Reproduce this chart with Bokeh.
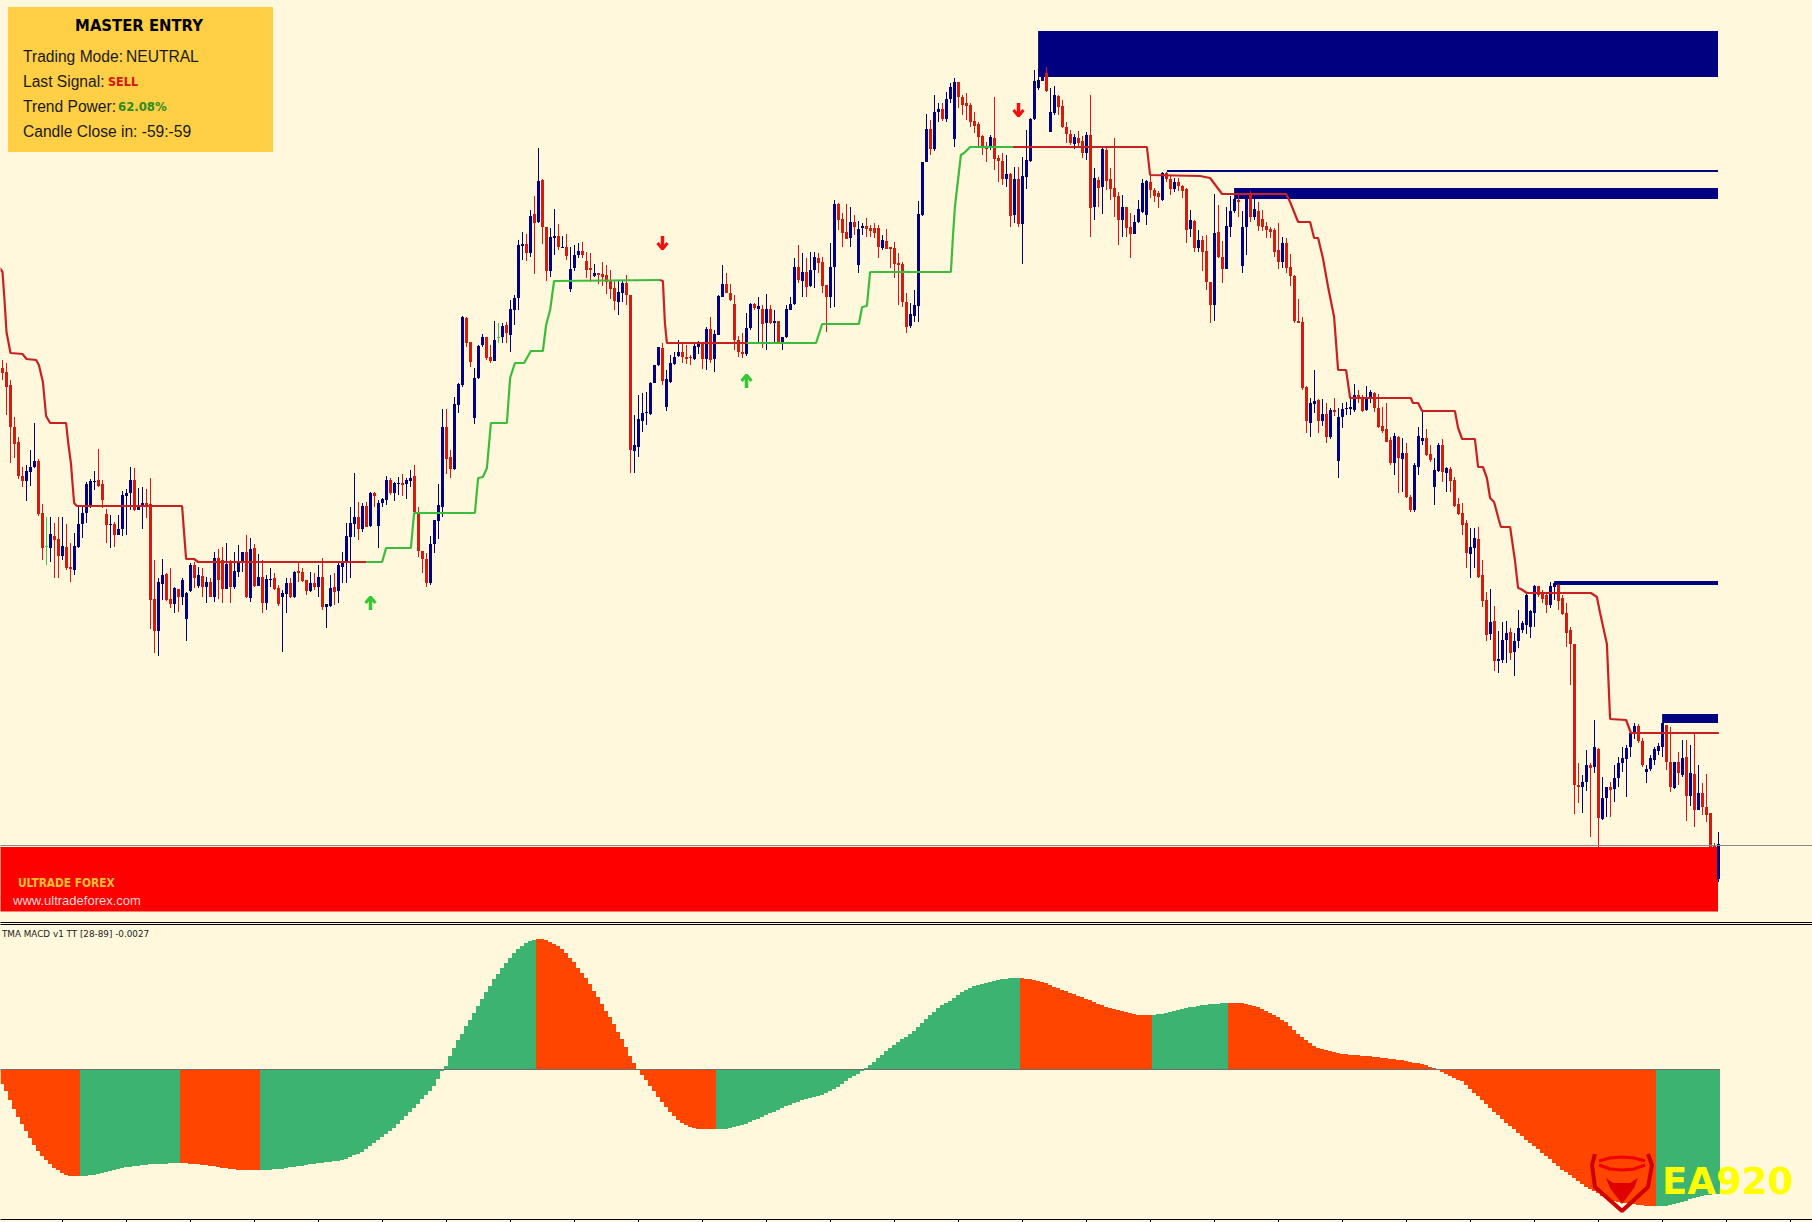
from bokeh.plotting import figure
from bokeh.models import Range1d
from bokeh.core.properties import value
from bokeh.embed import file_html
from bokeh.resources import INLINE

# ---------- price bars: (kind, high, body top, body bottom, low), price scale is the chart's row scale
# kind: n = rising (navy), r = falling (red), g = unchanged (green)
candles_000 = [
("r",360,368,373,380),("r",363,372,387,415),("r",380,385,427,463),("r",417,427,444,458),("r",437,442,476,479),
("r",467,476,481,487),("n",465,471,481,501),("n",450,467,472,486),("n",423,461,467,468),("r",459,461,514,516),
("r",504,513,548,560),("g",517,546,547,565),("n",517,534,548,562),("r",523,536,540,578),("r",517,539,556,578),
("n",517,546,556,560),("r",524,547,568,570),("r",543,567,569,582),("n",533,546,570,575),("n",506,524,547,548),
("n",505,513,524,538),("n",482,484,513,523),("n",479,481,506,508),("n",471,481,482,490),("r",449,480,486,487),
("r",480,484,500,508),("r",509,514,525,543),("n",515,524,525,548),("r",522,524,535,547),("n",515,529,535,535),
("n",491,495,529,536),("n",489,493,496,535),("n",467,480,493,510),("r",468,480,510,511),("n",488,506,510,510),
("n",487,503,506,529),("r",489,503,505,518),("r",478,504,600,629),("r",560,599,631,653),("n",578,582,631,656),
("n",559,575,584,600),("r",573,574,600,601),("r",568,599,604,608),("n",587,588,604,613),("r",589,589,597,612),
("n",578,580,597,605),("n",592,593,619,641),("n",563,565,591,592),("r",562,565,578,588),("n",567,575,586,588),
("r",568,576,587,597),("n",577,582,587,603),("r",578,582,597,597),("n",552,558,597,602),("r",549,558,580,599),
("r",547,560,589,603),("n",543,564,589,589),("r",560,562,587,603),("n",552,571,587,589),("n",545,563,572,577),
("n",552,552,563,572),("r",535,552,597,598),("n",538,549,598,602),("r",544,548,586,587),("n",554,577,586,586),
("r",560,577,603,613),("n",575,579,603,610),("n",568,579,580,587),("r",573,578,589,590),("r",585,588,604,606),
("n",590,593,597,652),("n",578,583,594,613),("r",578,583,597,598),("n",571,572,597,598),("r",562,571,573,582),
("r",568,572,581,582),("r",580,580,591,595),("n",572,583,591,592),("r",573,583,587,590),("n",565,577,587,597),
("r",558,577,607,610),("n",604,604,607,628),("n",575,588,606,607),("r",573,587,592,605),("n",563,565,591,603),
("n",552,563,567,583),("n",523,536,563,583),("n",507,523,537,578),("n",473,517,524,537),("r",502,517,529,540),
("n",503,506,529,532),("r",502,506,527,527),("n",492,493,526,527),("r",492,493,496,507),("n",500,503,526,548),
("n",498,499,503,507),("n",476,480,500,505),("r",478,480,493,495),("n",482,483,493,501),("n",477,483,484,495),
]
candles_100 = [
("r",474,483,485,496),("n",478,480,484,499),("n",470,478,481,487),("r",465,476,512,513),("r",507,512,551,557),
("r",551,551,559,573),("r",553,559,583,587),("n",536,544,583,585),("n",520,520,544,553),("n",484,505,521,539),
("n",409,427,507,517),("r",409,427,459,474),("r",450,457,469,478),("n",397,404,469,470),("n",383,384,405,413),
("n",316,317,385,387),("r",317,318,343,347),("r",342,342,362,367),("n",368,378,418,424),("n",345,346,378,379),
("n",334,337,345,347),("r",337,337,358,360),("r",345,357,361,363),("n",321,340,361,361),("g",323,337,338,343),
("n",323,326,337,343),("r",322,325,333,343),("n",300,309,335,352),("n",295,298,310,325),("n",240,245,298,310),
("n",232,244,246,260),("r",234,244,253,261),("n",210,216,253,257),("r",196,214,223,274),("n",148,181,222,223),
("r",179,180,227,244),("r",227,227,271,281),("n",228,237,271,277),("n",209,236,238,255),("r",224,236,247,250),
("n",236,247,248,248),("r",234,247,256,260),("n",247,269,289,292),("n",245,255,268,271),("n",243,251,255,258),
("r",242,251,255,258),("r",252,261,270,278),("r",253,268,270,282),("n",264,273,276,277),("r",273,273,275,284),
("r",262,274,277,286),("r",265,275,282,294),("r",270,281,289,299),("r",280,288,301,310),("n",281,292,302,315),
("n",280,283,293,302),("r",275,283,295,305),("r",295,295,450,473),("n",415,445,451,473),("n",395,419,447,457),
("n",393,413,421,432),("n",392,412,413,425),("n",382,383,414,415),("n",365,365,383,383),("n",347,347,365,366),
("r",343,348,381,385),("n",370,379,407,411),("n",355,363,382,383),("n",352,357,364,365),("n",340,352,356,357),
("r",343,352,357,363),("r",345,357,359,364),("r",355,357,358,365),("n",343,346,359,360),("n",341,344,347,354),
("r",343,343,359,369),("n",327,329,359,370),("r",317,329,360,363),("n",330,334,359,372),("n",295,296,335,335),
("n",265,284,297,297),("r",273,284,293,293),("r",284,293,300,301),("r",295,304,340,350),("r",336,340,352,357),
("r",333,352,354,358),("n",313,328,354,356),("n",303,304,328,330),("r",303,304,308,310),("n",297,306,309,343),
("r",305,309,324,348),("n",294,309,323,350),("r",305,309,323,324),("n",310,321,323,343),("r",321,321,343,344),
("n",337,337,344,350),("n",305,309,337,338),("n",297,304,310,310),("n",258,267,304,305),("r",245,267,280,283),
]
candles_200 = [
("n",253,272,281,297),("r",258,272,287,297),("n",252,270,286,287),("n",252,257,270,288),("r",253,258,263,273),
("r",257,262,286,293),("r",285,285,297,332),("n",243,267,297,308),("n",200,204,267,307),("r",203,204,220,230),
("r",213,219,233,247),("r",204,232,239,238),("n",207,222,238,247),("r",215,222,227,235),("n",221,229,265,273),
("n",223,226,228,235),("r",218,226,229,237),("r",225,228,231,237),("r",223,228,233,238),("r",225,228,247,258),
("n",235,240,248,250),("r",229,241,249,249),("r",247,247,249,268),("r",242,248,264,278),("r",253,263,265,305),
("r",262,264,302,307),("r",293,302,327,333),("n",303,314,326,328),("n",290,305,316,322),("n",201,214,306,322),
("n",162,162,215,216),("n",114,129,162,162),("r",120,129,149,155),("n",95,112,149,151),("n",103,109,112,122),
("r",103,109,119,121),("n",92,99,119,122),("n",83,87,99,103),("n",78,82,139,147),("r",82,82,97,108),
("r",95,97,105,115),("r",93,103,106,120),("r",103,105,122,127),("r",112,121,126,133),("r",122,124,137,147),
("r",135,136,147,155),("r",142,146,149,162),("n",135,137,148,150),("r",97,138,159,170),("r",155,158,161,182),
("r",153,161,179,185),("n",155,174,179,187),("r",173,174,216,227),("n",167,179,215,223),("r",167,179,224,227),
("n",157,176,224,264),("n",130,160,177,189),("n",118,119,161,162),("n",70,81,119,120),("n",69,80,88,90),
("n",70,77,81,81),("r",67,73,91,92),("n",88,112,132,132),("n",86,95,113,115),("r",95,96,107,115),
("r",100,106,127,128),("r",122,127,134,143),("r",130,134,143,145),("n",134,137,144,149),("r",131,138,143,147),
("r",136,141,153,158),("n",132,135,153,160),("r",95,135,208,237),("n",168,178,207,220),("r",177,180,188,207),
("n",148,149,187,214),("r",146,150,181,190),("r",168,179,189,200),("r",138,188,197,217),("r",192,196,220,245),
("n",195,207,220,237),("r",207,207,228,237),("r",213,227,234,258),("n",215,222,234,233),("n",200,209,222,223),
("n",179,183,212,213),("n",180,181,215,225),("r",175,182,190,198),("r",188,190,196,202),("r",191,193,197,208),
("n",172,173,200,201),("r",172,173,179,182),("r",175,179,189,195),("n",178,182,189,192),("r",178,182,186,191),
("r",185,186,191,198),("r",188,189,230,243),("n",210,220,229,237),("r",220,221,248,252),("n",230,240,248,252),
]
candles_300 = [
("r",236,240,252,271),("r",235,251,282,290),("r",282,282,305,323),("n",194,233,305,321),("r",205,232,257,258),
("r",241,257,269,283),("n",207,226,269,269),("n",196,211,227,237),("n",198,199,211,213),("r",193,200,202,217),
("n",211,227,266,273),("n",192,195,227,255),("r",191,195,217,222),("n",192,209,217,220),("r",202,211,226,231),
("r",210,219,227,231),("r",222,226,230,238),("r",227,229,232,238),("r",228,230,252,257),("r",223,250,262,269),
("n",237,243,262,268),("r",238,243,268,273),("r",254,267,276,286),("r",275,276,321,323),("r",299,321,323,323),
("r",317,322,388,390),("r",386,387,421,433),("n",398,403,423,437),("n",370,401,404,413),("r",399,400,421,433),
("n",399,414,421,426),("r",403,414,437,443),("n",408,410,437,439),("r",398,410,412,416),("n",408,417,461,478),
("n",403,409,417,428),("n",402,408,409,415),("n",398,407,409,415),("n",384,395,410,412),("r",390,395,398,403),
("r",395,397,411,412),("n",386,397,410,411),("n",390,392,398,403),("r",392,393,408,412),("r",394,408,427,428),
("r",407,426,431,433),("r",403,429,442,442),("r",437,440,463,465),("n",433,436,463,475),("r",436,437,458,493),
("n",438,453,459,492),("r",443,453,497,498),("r",495,497,510,512),("n",463,465,510,512),("n",427,436,467,475),
("n",411,438,441,445),("r",429,438,455,456),("r",445,454,460,462),("n",458,470,487,505),("n",443,445,471,472),
("r",439,445,472,482),("n",467,468,473,492),("r",467,469,481,492),("r",477,480,506,507),("r",498,504,514,515),
("r",503,513,525,535),("r",520,523,553,568),("n",528,547,554,578),("n",528,538,548,568),("r",527,539,577,578),
("r",560,575,601,607),("r",592,600,635,641),("n",589,622,634,640),("r",606,621,661,671),("n",631,659,661,673),
("n",622,640,660,663),("n",621,633,640,663),("r",628,632,653,660),("n",633,641,652,676),("n",610,628,641,648),
("n",621,623,630,633),("n",593,595,625,634),("n",610,611,627,638),("n",585,586,613,627),("r",586,586,595,597),
("r",590,593,599,603),("r",592,595,605,613),("n",582,586,605,608),("n",583,583,587,600),("r",584,585,601,610),
("r",595,598,614,615),("r",603,613,633,647),("r",627,630,644,685),("r",644,644,785,814),("r",763,785,787,803),
("n",775,782,787,813),("n",750,765,782,791),("r",763,765,768,837),("n",720,747,767,773),("r",748,749,818,847),
]
candles_400 = [
("n",777,798,819,820),("n",787,787,798,817),("r",782,787,790,817),("n",765,778,789,802),("n",757,763,778,787),
("n",747,758,763,772),("n",745,748,759,797),("n",733,733,747,757),("n",723,726,734,739),("r",724,726,741,743),
("r",738,741,765,767),("n",765,769,772,783),("n",755,758,769,771),("n",747,749,760,765),("n",743,746,751,755),
("n",723,723,747,757),("r",725,725,762,770),("r",727,762,787,792),("n",762,762,788,789),("r",752,762,773,785),
("n",740,758,775,777),("r",740,757,796,821),("n",745,773,796,806),("r",733,774,810,827),("n",765,793,810,810),
("r",783,793,807,815),("r",774,807,815,822),("r",813,813,847,847),("r",843,845,847,847),("n",832,844,879,882),
]

# ---------- MACD histogram, one value per bar
macd_000 = [-15,-22,-31,-40,-48,-55,-62,-69,-76,-82,-87,-91,-95,-99,-101,-104,-106,-107,-107,-107,
-107,-107,-106,-106,-105,-104,-103,-102,-101,-100,-99,-98,-98,-97,-97,-96,-96,-95,-95,-95,
-95,-95,-94,-94,-94,-94,-94,-95,-95,-95,-96,-96,-97,-97,-98,-99,-99,-100,-100,-101,
-101,-101,-101,-101,-101,-101,-101,-101,-100,-100,-100,-99,-98,-98,-97,-97,-96,-95,-95,-94,
-94,-93,-93,-92,-92,-91,-90,-88,-86,-85,-83,-80,-77,-74,-71,-68,-65,-62,-59,-55]
macd_100 = [-51,-47,-43,-39,-35,-30,-26,-22,-17,-10,-2,3,13,21,29,35,43,49,56,63,
70,77,83,90,95,101,106,111,116,120,123,126,128,129,130,130,129,127,125,123,
120,116,111,107,101,96,91,85,78,72,65,58,52,45,37,30,22,13,6,-1,
-6,-11,-17,-22,-28,-33,-38,-43,-47,-51,-54,-56,-58,-59,-60,-60,-60,-60,-60,-60,
-60,-60,-59,-58,-57,-56,-55,-53,-51,-50,-48,-46,-44,-43,-41,-39,-37,-36,-34,-33]
macd_200 = [-31,-30,-29,-28,-27,-26,-24,-22,-20,-18,-15,-12,-9,-7,-5,-2,1,4,7,11,
14,18,21,24,27,30,32,35,38,42,46,50,54,57,61,64,66,68,71,74,
77,79,81,83,84,85,86,87,88,89,90,90,91,91,91,91,90,90,89,88,
87,86,84,82,81,79,78,76,75,73,72,70,69,67,65,64,62,61,60,59,
58,57,56,55,54,54,54,54,54,55,55,56,57,58,59,60,61,62,62,63]
macd_300 = [64,64,65,65,65,66,66,66,66,66,66,65,64,63,62,60,58,56,54,52,
49,47,43,39,35,32,29,26,23,21,20,19,18,17,16,15,15,14,14,14,
13,13,13,12,12,11,11,10,10,9,9,8,7,6,6,5,4,2,1,-1,
-3,-5,-7,-9,-11,-12,-16,-20,-24,-27,-31,-35,-39,-43,-46,-50,-54,-57,-60,-64,
-67,-71,-74,-77,-80,-84,-87,-90,-94,-97,-101,-103,-106,-109,-112,-115,-118,-120,-122,-124]
macd_400 = [-127,-129,-130,-132,-133,-134,-134,-135,-135,-136,-136,-137,-137,-137,
-137,-137,-137,-136,-135,-134,-133,-132,-130,-129,-128,-127,-126,-126,-125,-125]
macd_run_ends = [20, 45, 65, 134, 179, 255, 288, 307, 414, 430]   # colour changes; first run is falling
macd_colors = ["#FF4500", "#3CB371"]

# ---------- trailing stop line
red_a_bar = [-0.7,0,0.5,1,2,5,6,8.4,9.1,10.1,10.9,11.9,15.9,16.4,17.1,17.9,18.6,44.9,45.4,45.9,47.9,48.9,90.9]
red_a_val = [268,272,300,332,353,354,359,360,365,382,416,423,423,442,463,503,506,506,533,559,559,562,562]
green_a_bar = [90.9,94.9,95.9,102.1,102.9,118.1,118.9,120.1,121.1,122.1,126.1,126.9,128.1,130.4,132.1,135.1,135.9,136.9,137.9,164.4]
green_a_val = [562,562,548,548,513,513,478,477,468,423,423,378,363,363,351,351,325,310,281,280]
red_b_bar = [164.4,165.1,165.6,166.1,186.1]
red_b_val = [280,281,323,343,343]
green_b_bar = [186.1,203.4,204.9,214.1,214.9,216.1,216.9,237.1,237.6,238.1,239.6,240.4,241.9,252.6]
green_b_val = [343,343,324,324,307,306,272,272,237,207,155,153,147,147]
red_c_bar = [252.6,286.1,286.9,299.4,301.9,303.4,304.9,320.9,321.9,323.9,326.9,327.9,328.9,330.1,331.4,332.9,333.9,335.9,336.9,352.1,352.6,353.9,354.9,363.1,363.9,364.9,368.1,368.9,370.1,371.1,371.9,372.9,374.1,374.6,376.9,378.1,378.9,379.6,381.1,397.1,398.6,399.4,401.1,401.9,405.9,407.1,429.1]
red_c_val = [147,147,175,176,178,186,194,194,202,222,222,238,238,258,287,317,370,370,398,398,403,403,411,411,428,439,439,467,467,478,498,502,520,527,527,560,588,589,593,593,597,613,644,719,720,733,733]

# ---------- signal arrows and zones
sell_bar = [165, 254]
sell_val = [243, 110]
buy_bar = [92, 186]
buy_val = [603, 381]
zone_left = [258.9, 291.1, 307.9, 387.9, 414.9]
zone_top = [31, 170, 188, 581, 714]
zone_bottom = [77, 172, 199, 585, 723]
chart_end_bar = 428.875
tick_bars = list(range(15, 448, 16))

BG = "#FFF8DC"
NAVY = "#000080"
RED = "#D41B10"
LINE_RED = "#C92020"
LINE_GREEN = "#3DBB3D"
GREEN_DOJI = "#45C845"

candles = candles_000 + candles_100 + candles_200 + candles_300 + candles_400
macd = macd_000 + macd_100 + macd_200 + macd_300 + macd_400
assert len(candles) == 430 and len(macd) == 430, (len(candles), len(macd))

def bx(px):
    return px / 4 - 0.625

# the canvas draws half a pixel in from its corner, so the ranges start half a pixel later
p = figure(width=1812, height=1222, output_backend="svg", toolbar_location=None, tools="",
           x_range=Range1d(-0.5, 452.5), y_range=Range1d(1222.5, 0.5),
           x_axis_location=None, y_axis_location=None, min_border=0,
           background_fill_color=BG, border_fill_color=BG, outline_line_color=None)
p.styles = {"position": "fixed", "left": "0px", "top": "0px", "background-color": BG}
p.extra_y_ranges = {"macd": Range1d(-153.5, 1068.5)}
p.grid.visible = False

# zones
p.quad(left=zone_left, right=[chart_end_bar] * 5, top=zone_top, bottom=zone_bottom, color=NAVY, line_color=None)
# banner
p.quad(left=[bx(-4)], right=[chart_end_bar], top=[847], bottom=[911.5], color="#FF0000", line_color=None)

# candles
kcol = {"n": NAVY, "r": RED, "g": GREEN_DOJI}
xs = list(range(len(candles)))
cols = [kcol[c[0]] for c in candles]
p.segment(x0=xs, x1=xs, y0=[c[1] for c in candles], y1=[c[4] for c in candles], line_color=cols, line_width=1)
p.vbar(x=xs, width=0.75, top=[c[2] for c in candles], bottom=[c[3] for c in candles],
       fill_color=cols, line_color=None)

# stop line
for bars, vals, col in [(red_a_bar, red_a_val, LINE_RED), (green_a_bar, green_a_val, LINE_GREEN),
                        (red_b_bar, red_b_val, LINE_RED), (green_b_bar, green_b_val, LINE_GREEN),
                        (red_c_bar, red_c_val, LINE_RED)]:
    p.line(bars, vals, line_color=col, line_width=2.2)

# arrows
for b, v in zip(sell_bar, sell_val):
    p.line([b, b], [v - 7, v + 5], line_color="#F01010", line_width=3.5)
    p.line([b - 1.25, b, b + 1.25], [v, v + 6, v], line_color="#F01010", line_width=3)
for b, v in zip(buy_bar, buy_val):
    p.line([b, b], [v - 5, v + 7], line_color="#35C835", line_width=3.5)
    p.line([b - 1.25, b, b + 1.25], [v, v - 6, v], line_color="#35C835", line_width=3)

# reference lines
for row, col in [(845.5, "#8A8A8A"), (922.5, "#000000"), (924.5, "#000000"), (1219.5, "#000000")]:
    p.segment(x0=[bx(-4)], x1=[bx(1816)], y0=[row], y1=[row], line_color=col, line_width=1)
p.segment(x0=tick_bars, x1=tick_bars, y0=[1219] * len(tick_bars), y1=[1223] * len(tick_bars),
          line_color="#000000", line_width=1)

# MACD histogram
macd_cols = []
start = 0
for k, end in enumerate(macd_run_ends):
    macd_cols += [macd_colors[k % 2]] * (end - start)
    start = end
p.vbar(x=[i - 0.125 for i in range(len(macd))], width=1, top=macd, bottom=0, fill_color=macd_cols,
       line_color=None, y_range_name="macd")
p.line([bx(-4), bx(1720)], [-0.5, -0.5], line_color="#6E6E6E", line_width=1, y_range_name="macd")

# info panel
p.quad(left=[bx(8)], right=[bx(273)], top=[7], bottom=[152], color="#FFCF45", line_color=None)

def label(px, row, s, font, size, color, style="normal", align="left"):
    p.text([bx(px)], [row], text=[s], text_font=value(font), text_font_size=size, text_color=color,
           text_font_style=style, text_align=align, text_baseline="middle")

NARROW = "DejaVu Sans Condensed"
SANS = "Liberation Sans"
label(139, 25.5, "MASTER ENTRY", NARROW, "16.5px", "#000000", "bold", "center")
label(23, 56, "Trading Mode:", SANS, "15.6px", "#1A1A1A")
label(126, 56, "NEUTRAL", SANS, "15.6px", "#1A1A1A")
label(23, 81, "Last Signal:", SANS, "15.6px", "#1A1A1A")
label(108, 81.5, "SELL", NARROW, "12.5px", "#E01010", "bold")
label(23, 106, "Trend Power:", SANS, "15.6px", "#1A1A1A")
label(118, 106.5, "62.08%", NARROW, "13px", "#2E8B1E", "bold")
label(23, 131, "Candle Close in: -59:-59", SANS, "15.6px", "#1A1A1A")
label(18, 882.5, "ULTRADE FOREX", NARROW, "11.8px", "#FFC030", "bold")
label(13, 900, "www.ultradeforex.com", SANS, "13px", "#FFD8D8")
label(2, 933.5, "TMA MACD v1 TT [28-89] -0.0027", "DejaVu Sans", "8.8px", "#222222")

# EA920 mark
shield_x = [bx(v) for v in [1595, 1592, 1595, 1622, 1648, 1652, 1648]]
shield_y = [1154, 1165, 1187, 1211, 1187, 1165, 1154]
p.line(shield_x, shield_y, line_color="#D00000", line_width=4)
p.line([bx(v) for v in [1599, 1610, 1622, 1634, 1645]], [1161, 1158, 1157, 1158, 1161], line_color="#F00000", line_width=3)
p.line([bx(v) for v in [1599, 1610, 1622, 1634, 1645]], [1165, 1169, 1170, 1169, 1165], line_color="#F00000", line_width=3)
p.patch([bx(v) for v in [1606, 1613, 1630, 1638, 1634, 1622, 1610]],
        [1178, 1183, 1183, 1178, 1188, 1204, 1188], color="#E00000", line_color=None)
label(1662, 1181, "EA920", "DejaVu Sans", "37px", "#FFFF00", "bold")

open("out.html", "w").write(file_html(p, INLINE))
